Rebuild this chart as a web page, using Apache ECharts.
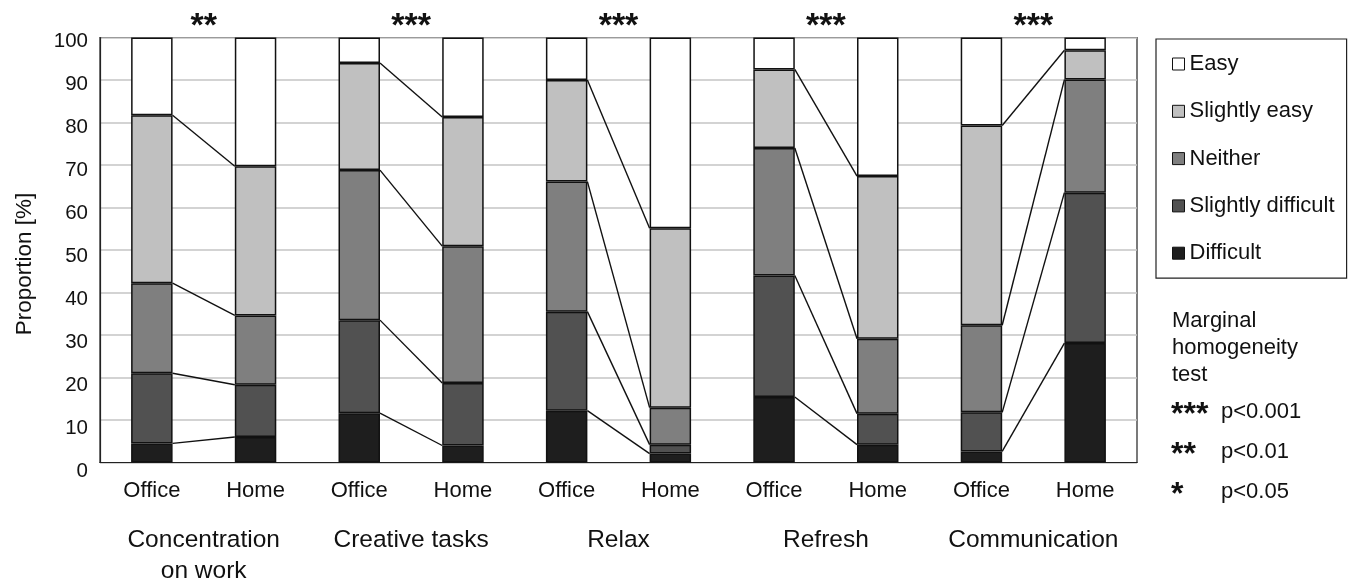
<!DOCTYPE html>
<html>
<head>
<meta charset="utf-8">
<script src="https://cdn.jsdelivr.net/npm/echarts@6/dist/echarts.min.js"></script>
<style>
html,body{margin:0;padding:0;background:#fff;}
#chart{width:1354px;height:580px;}
</style>
</head>
<body>
<div id="chart"></div>
<script>
// ---- data ----
const groups = ['Concentration\non work', 'Creative tasks', 'Relax', 'Refresh', 'Communication'];
const conditions = ['Office', 'Home'];
const significance = ['**', '***', '***', '***', '***'];
const levels = ['Difficult', 'Slightly difficult', 'Neither', 'Slightly easy', 'Easy'];
const legendOrder = ['Easy', 'Slightly easy', 'Neither', 'Slightly difficult', 'Difficult'];
// values per bar: Concentration Office, Home, Creative Office, Home, Relax Office, Home, Refresh Office, Home, Communication Office, Home
const difficult         = [4.5, 6.0, 11.6, 4.0, 12.2, 2.1, 15.4, 4.2, 2.6, 28.1];
const slightlyDifficult = [16.5, 12.3, 21.9, 14.7, 23.3, 2.1, 28.6, 7.3, 9.2, 35.4];
const neither           = [21.2, 16.3, 35.3, 32.2, 30.6, 8.7, 30.0, 17.6, 20.5, 26.6];
const slightlyEasy      = [39.5, 35.1, 25.2, 30.4, 23.9, 42.2, 18.5, 38.3, 47.0, 6.9];
const easy              = [18.3, 30.3, 6.0, 18.7, 10.0, 44.9, 7.5, 32.6, 20.7, 3.0];
const yTicks = [0, 10, 20, 30, 40, 50, 60, 70, 80, 90, 100];
const testNote = ['Marginal', 'homogeneity', 'test'];
const sigKey = [['***', 'p<0.001'], ['**', 'p<0.01'], ['*', 'p<0.05']];

// ---- build ----
const seriesValues = [difficult, slightlyDifficult, neither, slightlyEasy, easy];
const colors = ['#1e1e1e', '#515151', '#7f7f7f', '#c0c0c0', '#ffffff'];
const categories = [];
groups.forEach((g, gi) => conditions.forEach(c => categories.push(gi + '|' + c)));

const font = 'Liberation Sans, Arial, Helvetica, sans-serif';
const FS = 22;
const yMin = yTicks[0], yMax = yTicks[yTicks.length - 1];

const barSeries = levels.map((name, i) => ({
  name: name,
  type: 'bar',
  stack: 'total',
  barWidth: '40%',
  data: seriesValues[i],
  itemStyle: { color: colors[i], borderColor: '#111', borderWidth: 1.5 },
  silent: true,
  z: 2
}));

// connector lines between office and home bars at cumulative boundaries
const connData = [];
for (let g = 0; g < groups.length; g++) {
  const o = 2 * g, h = 2 * g + 1;
  let co = 0, ch = 0;
  for (let k = 0; k < levels.length - 1; k++) {
    co += seriesValues[k][o];
    ch += seriesValues[k][h];
    connData.push([o, h, co, ch]);
  }
}
const connSeries = {
  type: 'custom',
  silent: true,
  z: 3,
  data: connData,
  encode: { x: [0, 1], y: [2, 3] },
  renderItem: function (params, api) {
    const p1 = api.coord([api.value(0), api.value(2)]);
    const p2 = api.coord([api.value(1), api.value(3)]);
    const bw = api.size([1, 0])[0] * 0.4;
    return {
      type: 'line',
      shape: { x1: p1[0] + bw / 2, y1: p1[1], x2: p2[0] - bw / 2, y2: p2[1] },
      style: { stroke: '#111', lineWidth: 1.4 }
    };
  }
};

const graphics = [];
testNote.forEach((t, i) => {
  graphics.push({ type: 'text', x: 1172, y: 321 + i * 27, style: { text: t, font: FS + 'px ' + font, fill: '#111', verticalAlign: 'middle' } });
});
sigKey.forEach((s, i) => {
  graphics.push({ type: 'text', x: 1171, y: 415 + i * 40, style: { text: s[0], font: 'bold 32px ' + font, fill: '#111', verticalAlign: 'middle' } });
  graphics.push({ type: 'text', x: 1221, y: 412 + i * 40, style: { text: s[1], font: FS + 'px ' + font, fill: '#111', verticalAlign: 'middle' } });
});

const chart = echarts.init(document.getElementById('chart'), null, { renderer: 'canvas' });
chart.setOption({
  animation: false,
  backgroundColor: '#fff',
  textStyle: { fontFamily: font, color: '#111' },
  grid: [
    { left: 100, right: 217, top: 37.5, bottom: 117.5, show: true, borderColor: '#222', borderWidth: 1.2, backgroundColor: 'transparent', containLabel: false, outerBoundsMode: 'none' },
    // label-only grid for the y tick labels (slightly offset in the original)
    { left: 100, right: 217, top: 41.7, bottom: 108.3, show: false, containLabel: false, outerBoundsMode: 'none' }
  ],
  legend: {
    data: legendOrder,
    orient: 'vertical',
    left: 1156,
    top: 39,
    padding: [13, 12, 13, 16],
    itemWidth: 12,
    itemHeight: 12,
    itemGap: 23.3,
    icon: 'rect',
    borderColor: '#222',
    borderWidth: 1.2,
    selectedMode: false,
    itemStyle: { borderColor: '#111', borderWidth: 1 },
    textStyle: { fontSize: FS, color: '#111', fontFamily: font, lineHeight: 24 }
  },
  xAxis: [
    {
      type: 'category',
      gridIndex: 0,
      data: categories,
      position: 'bottom',
      axisLine: { show: true, lineStyle: { color: '#222', width: 1.2 } },
      axisTick: { show: false },
      axisLabel: { formatter: v => v.split('|')[1], fontSize: FS, color: '#111', margin: 17, interval: 0 },
      splitLine: { show: false }
    },
    {
      type: 'category',
      gridIndex: 0,
      data: groups,
      position: 'bottom',
      axisLine: { show: false },
      axisTick: { show: false },
      axisLabel: { fontSize: 24.5, color: '#111', margin: 62, lineHeight: 31, interval: 0, verticalAlign: 'top' },
      splitLine: { show: false }
    },
    {
      type: 'category',
      gridIndex: 0,
      data: significance,
      position: 'top',
      axisLine: { show: false },
      axisTick: { show: false },
      axisLabel: { fontSize: 34, fontWeight: 'bold', color: '#111', margin: -6, interval: 0 },
      splitLine: { show: false }
    },
    {
      type: 'category',
      gridIndex: 1,
      data: categories,
      show: false
    }
  ],
  yAxis: [
    {
      type: 'value',
      gridIndex: 0,
      min: yMin,
      max: yMax,
      interval: 10,
      name: 'Proportion [%]',
      nameLocation: 'middle',
      nameGap: 64,
      nameTextStyle: { fontSize: 22.5, color: '#111', padding: [0, 0, 0, -28] },
      axisLine: { show: true, lineStyle: { color: '#222', width: 1.2 } },
      axisTick: { show: false },
      axisLabel: { show: false },
      splitLine: { show: true, lineStyle: { color: '#c4c4c4', width: 1.5 } }
    },
    {
      type: 'value',
      gridIndex: 1,
      min: yMin,
      max: yMax,
      interval: 10,
      axisLine: { show: false },
      axisTick: { show: false },
      axisLabel: { fontSize: 20.5, color: '#111', margin: 12 },
      splitLine: { show: false }
    }
  ],
  series: barSeries.concat([connSeries]),
  graphic: graphics
});
</script>
</body>
</html>
